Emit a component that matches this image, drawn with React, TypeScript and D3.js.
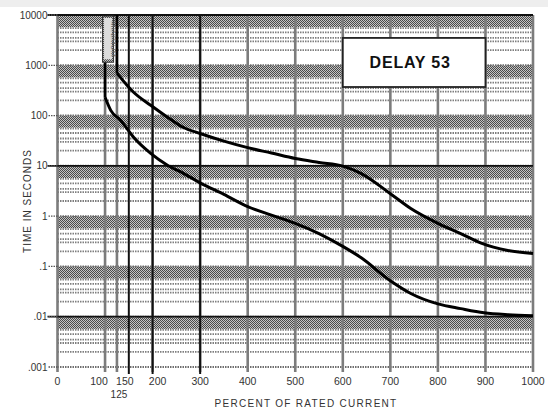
import React from "react";
import * as d3 from "d3";

// ---- data ----
const upperCurrent = [125, 125, 160, 196, 232, 265, 300, 350, 400, 450, 500, 550, 600, 638, 700, 743, 800, 848, 891, 947, 1000];
const upperTime = [10000, 700, 291, 160, 92, 58, 44, 31, 23, 18, 14, 11.7, 9.9, 7.1, 2.8, 1.42, 0.72, 0.45, 0.29, 0.207, 0.18];

const lowerCurrent = [100, 100, 112, 133, 160, 196, 232, 265, 300, 350, 400, 450, 500, 550, 600, 638, 700, 743, 800, 848, 897, 947, 1000];
const lowerTime = [10000, 231, 127, 80, 37, 17.7, 10.2, 7.1, 4.6, 2.7, 1.55, 1.05, 0.72, 0.45, 0.25, 0.15, 0.052, 0.029, 0.018, 0.0145, 0.012, 0.011, 0.0105];

const yTickValues = [10000, 1000, 100, 10, 1, 0.1, 0.01, 0.001];
const yTickLabels = ["10000", "1000", "100", "10", "1", ".1", ".01", ".001"];
const xTickValues = [0, 100, 150, 200, 300, 400, 500, 600, 700, 800, 900, 1000];
const xTickLabels = ["0", "100", "150", "200", "300", "400", "500", "600", "700", "800", "900", "1000"];
const xGridValues = [0, 100, 125, 200, 300, 400, 500, 600, 700, 800, 900, 1000];
const xBoldValues = [150, 200, 300];
const yBoldValues = [10, 0.01];
const minorMultipliers = [5.5, 4.5, 3.5, 3, 2];
const decadeStarts = [0.001, 0.01, 0.1, 1, 10, 100, 1000];

const title = "DELAY 53";
const xTitle = "PERCENT OF RATED CURRENT";
const yTitle = "TIME IN SECONDS";

const W = 548;
const H = 414;
const FONT = "'Liberation Sans', Arial, sans-serif";

export default function App() {
  const x = d3.scaleLinear().domain([0, 1000]).range([57.5, 533]);
  const y = d3.scaleLog().domain([0.001, 10000]).range([367, 15]);
  const left = x(0);
  const right = x(1000);
  const top = y(10000);
  const bottom = y(0.001);

  const lineGen = d3
    .line<[number, number]>()
    .x((d) => x(d[0]))
    .y((d) => y(d[1]))
    .curve(d3.curveMonotoneX);
  const straight = d3
    .line<[number, number]>()
    .x((d) => x(d[0]))
    .y((d) => y(d[1]));

  const upper: [number, number][] = upperCurrent.map((c, i) => [c, upperTime[i]]);
  const lower: [number, number][] = lowerCurrent.map((c, i) => [c, lowerTime[i]]);

  const labelDx: Record<string, number> = { "100": -6, "150": -4, "200": 5 };

  return (
    <svg
      width={W}
      height={H}
      style={{ position: "absolute", left: 0, top: 0, background: "#fff" }}
    >
      <defs>
        <pattern id="ht" width="2" height="2" patternUnits="userSpaceOnUse">
          <rect width="2" height="2" fill="#c4c4c4" />
          <rect width="1" height="1" fill="#4a4a4a" />
          <rect x="1" y="1" width="1" height="1" fill="#4a4a4a" />
        </pattern>
      </defs>
      <rect x={0} y={0} width={W} height={7} fill="#eeeeee" />

      {/* grey bands below each decade line */}
      {decadeStarts.map((d) => (
        <rect
          key={"band" + d}
          x={left}
          y={y(d * 10)}
          width={right - left}
          height={y(d * 6) - y(d * 10) + 1}
          fill="url(#ht)"
        />
      ))}

      {/* minor horizontal lines */}
      {decadeStarts.map((d) =>
        minorMultipliers.map((k) => (
          <line
            key={"mn" + d + "_" + k}
            x1={left}
            x2={right}
            y1={y(d * k)}
            y2={y(d * k)}
            stroke="#7e7e7e"
            strokeWidth={1.8}
            strokeDasharray="1.5 1"
          />
        ))
      )}

      {/* major horizontal (grey) */}
      {yTickValues.map((v) => (
        <line
          key={"mj" + v}
          x1={left}
          x2={right}
          y1={y(v)}
          y2={y(v)}
          stroke="#6e6e6e"
          strokeWidth={2}
          strokeDasharray="1.5 1"
        />
      ))}

      {/* vertical grid */}
      {xGridValues.map((v) => (
        <line
          key={"vg" + v}
          x1={x(v)}
          x2={x(v)}
          y1={top}
          y2={bottom + 5}
          stroke="#7c7c7c"
          strokeWidth={2.6}
        />
      ))}

      {/* bold vertical lines */}
      {xBoldValues.map((v) => (
        <line
          key={"vb" + v}
          x1={x(v)}
          x2={x(v)}
          y1={top}
          y2={bottom + 7}
          stroke="#111"
          strokeWidth={2}
        />
      ))}

      {/* bold horizontal lines */}
      {yBoldValues.map((v) => (
        <line
          key={"hb" + v}
          x1={left - 10}
          x2={right}
          y1={y(v)}
          y2={y(v)}
          stroke="#111"
          strokeWidth={1.8}
        />
      ))}
      <line x1={left - 10} x2={right} y1={top} y2={top} stroke="#111" strokeWidth={2.2} />

      {/* y ticks */}
      {yTickValues.map((v, i) => (
        <g key={"yt" + v}>
          <line x1={left - 9} x2={left} y1={y(v)} y2={y(v)} stroke="#555" strokeWidth={1.3} strokeDasharray="1.5 1" />
          <text
            x={left - 10}
            y={y(v) + 3.5}
            textAnchor="end"
            fontFamily={FONT}
            fontSize={10}
            fill="#333"
          >
            {yTickLabels[i]}
          </text>
        </g>
      ))}

      {/* x tick labels */}
      {xTickValues.map((v, i) => (
        <text
          key={"xt" + v}
          x={x(v) + (labelDx[xTickLabels[i]] || 0)}
          y={385}
          textAnchor="middle"
          fontFamily={FONT}
          fontSize={10.5}
          fill="#333"
        >
          {xTickLabels[i]}
        </text>
      ))}
      <text x={x(125) + 2} y={398} textAnchor="middle" fontFamily={FONT} fontSize={10} fill="#333">
        125
      </text>

      {/* curves */}
      <path d={straight(upper.slice(0, 2)) || ""} fill="none" stroke="#000" strokeWidth={2.6} />
      <path d={lineGen(upper.slice(1)) || ""} fill="none" stroke="#000" strokeWidth={3} strokeLinejoin="round" />
      <path d={straight(lower.slice(0, 2)) || ""} fill="none" stroke="#000" strokeWidth={2.6} />
      <path d={lineGen(lower.slice(1)) || ""} fill="none" stroke="#000" strokeWidth={3} strokeLinejoin="round" />

      {/* narrow annotation box at 100% */}
      <rect
        x={x(100) - 2.5}
        y={top + 1}
        width={11}
        height={y(1150) - top - 1}
        fill="url(#ht)"
        stroke="#333"
        strokeWidth={1}
      />
      <rect
        x={x(100) - 1}
        y={top + 3}
        width={8}
        height={y(1150) - top - 6}
        fill="#dcdcdc"
      />
      <text
        transform={`translate(${x(100) + 5.5},${top + 24}) rotate(90)`}
        textAnchor="middle"
        fontFamily={FONT}
        fontSize={8}
        fill="#666"
      >
        MINIMUM
      </text>

      {/* DELAY box */}
      <rect
        x={x(600)}
        y={y(3500)}
        width={x(900) - x(600)}
        height={y(370) - y(3500)}
        fill="#fff"
        stroke="#222"
        strokeWidth={1.8}
      />
      <text
        x={(x(600) + x(900)) / 2 - 4}
        y={(y(3500) + y(370)) / 2 + 6}
        textAnchor="middle"
        fontFamily={FONT}
        fontWeight="bold"
        fontSize={16}
        letterSpacing={0.8}
        fill="#111"
      >
        {title}
      </text>

      {/* axis titles */}
      <text
        x={306}
        y={407}
        textAnchor="middle"
        fontFamily={FONT}
        fontSize={10}
        letterSpacing={1.3}
        fill="#333"
      >
        {xTitle}
      </text>
      <text
        transform={`translate(31,${201}) rotate(-90)`}
        textAnchor="middle"
        fontFamily={FONT}
        fontSize={10}
        letterSpacing={1}
        fill="#333"
      >
        {yTitle}
      </text>
    </svg>
  );
}
